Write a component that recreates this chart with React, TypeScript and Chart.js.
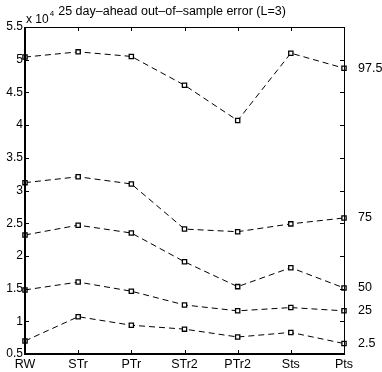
import React, { useEffect, useRef } from "react";
import { Chart, registerables } from "chart.js";

Chart.register(...registerables);

const categories = ["RW", "STr", "PTr", "STr2", "PTr2", "Sts", "Pts"];
const q975 = [5.04, 5.12, 5.05, 4.61, 4.07, 5.1, 4.87];
const q75 = [3.12, 3.21, 3.1, 2.41, 2.37, 2.49, 2.58];
const q50 = [2.32, 2.47, 2.35, 1.91, 1.53, 1.82, 1.51];
const q25 = [1.48, 1.6, 1.46, 1.25, 1.16, 1.21, 1.16];
const q025 = [0.7, 1.07, 0.94, 0.88, 0.76, 0.83, 0.66];
const seriesLabels = ["97.5", "75", "50", "25", "2.5"];
const seriesData = [q975, q75, q50, q25, q025];
const yMin = 0.5;
const yMax = 5.5;
const yStep = 0.5;
const titleText = "25 day\u2013ahead out\u2013of\u2013sample error (L=3)";
const FONT = "'Liberation Sans', Arial, Helvetica, sans-serif";

const framePlugin = {
  id: "framePlugin",
  afterDraw(chart: any) {
    const ctx = chart.ctx;
    const a = chart.chartArea;
    const xs = chart.scales.x;
    const ys = chart.scales.y;
    const L = Math.round(a.left);
    const R = Math.round(a.right);
    const T = Math.round(a.top);
    const B = Math.round(a.bottom);
    ctx.save();
    ctx.strokeStyle = "#000";
    ctx.lineWidth = 1;
    ctx.beginPath();
    ctx.moveTo(L, T + 0.5);
    ctx.lineTo(R + 0.5, T + 0.5);
    ctx.lineTo(R + 0.5, B);
    ctx.stroke();
    ctx.lineWidth = 2;
    ctx.beginPath();
    ctx.moveTo(L, T);
    ctx.lineTo(L, B);
    ctx.lineTo(R + 1, B);
    ctx.stroke();
    ctx.lineWidth = 1;
    ctx.beginPath();
    const tl = 4;
    for (let i = 0; i < categories.length; i++) {
      const x = Math.round(xs.getPixelForValue(i)) + 0.5;
      ctx.moveTo(x, B);
      ctx.lineTo(x, B - tl);
      ctx.moveTo(x, T);
      ctx.lineTo(x, T + tl);
    }
    for (let v = yMin; v <= yMax + 1e-9; v += yStep) {
      const y = Math.round(ys.getPixelForValue(v)) + 0.5;
      ctx.moveTo(L, y);
      ctx.lineTo(L + tl, y);
      ctx.moveTo(R, y);
      ctx.lineTo(R - tl, y);
    }
    ctx.stroke();
    ctx.fillStyle = "#000";
    ctx.textBaseline = "alphabetic";
    ctx.textAlign = "left";
    ctx.font = `12px ${FONT}`;
    ctx.fillText("x 10", L + 1, T - 4);
    const w = ctx.measureText("x 10").width;
    ctx.font = `8px ${FONT}`;
    ctx.fillText("4", L + 1 + w + 1, T - 11);
    ctx.font = `12.5px ${FONT}`;
    ctx.textBaseline = "middle";
    seriesData.forEach((d, i) => {
      const y = ys.getPixelForValue(d[d.length - 1]);
      ctx.fillText(seriesLabels[i], R + 14, y);
    });
    ctx.restore();
  },
};

export default function App() {
  const ref = useRef<HTMLCanvasElement | null>(null);
  useEffect(() => {
    document.body.style.margin = "0";
    const canvas = ref.current;
    if (!canvas) return;
    const chart = new Chart(canvas, {
      type: "line",
      data: {
        labels: categories,
        datasets: seriesData.map((d, i) => ({
          label: seriesLabels[i],
          data: d,
          borderColor: "#000",
          borderWidth: 1,
          borderDash: [6, 4],
          pointStyle: "rect",
          pointRadius: 3,
          pointBackgroundColor: "#fff",
          pointBorderColor: "#000",
          pointBorderWidth: 1.3,
          tension: 0,
          fill: false,
        })),
      },
      options: {
        animation: false,
        responsive: false,
        maintainAspectRatio: false,
        layout: { padding: { left: 0, right: 38, top: 0, bottom: 0 } },
        plugins: {
          legend: { display: false },
          tooltip: { enabled: false },
          title: {
            display: true,
            text: titleText,
            color: "#000",
            font: { family: FONT, size: 12.5, weight: "normal", lineHeight: 1.2 },
            padding: { top: 4.5, bottom: 7.5 },
          },
        },
        scales: {
          x: {
            type: "category",
            offset: false,
            grid: { display: false, drawTicks: false },
            border: { display: false },
            ticks: {
              color: "#000",
              font: { family: FONT, size: 12.5 },
              padding: 3,
              maxRotation: 0,
              autoSkip: false,
            },
            afterFit(scale: any) {
              scale.height = 18;
            },
          },
          y: {
            type: "linear",
            min: yMin,
            max: yMax,
            grid: { display: false, drawTicks: false },
            border: { display: false },
            ticks: {
              stepSize: yStep,
              color: "#000",
              font: { family: FONT, size: 12 },
              padding: 2,
              autoSkip: false,
              callback: (v: any) => String(v),
            },
            afterFit(scale: any) {
              scale.width = 25;
            },
          },
        },
      },
      plugins: [framePlugin],
    });
    return () => chart.destroy();
  }, []);
  return (
    <div style={{ width: 382, height: 372, background: "#fff" }}>
      <canvas ref={ref} width={382} height={372} style={{ display: "block" }} />
    </div>
  );
}
